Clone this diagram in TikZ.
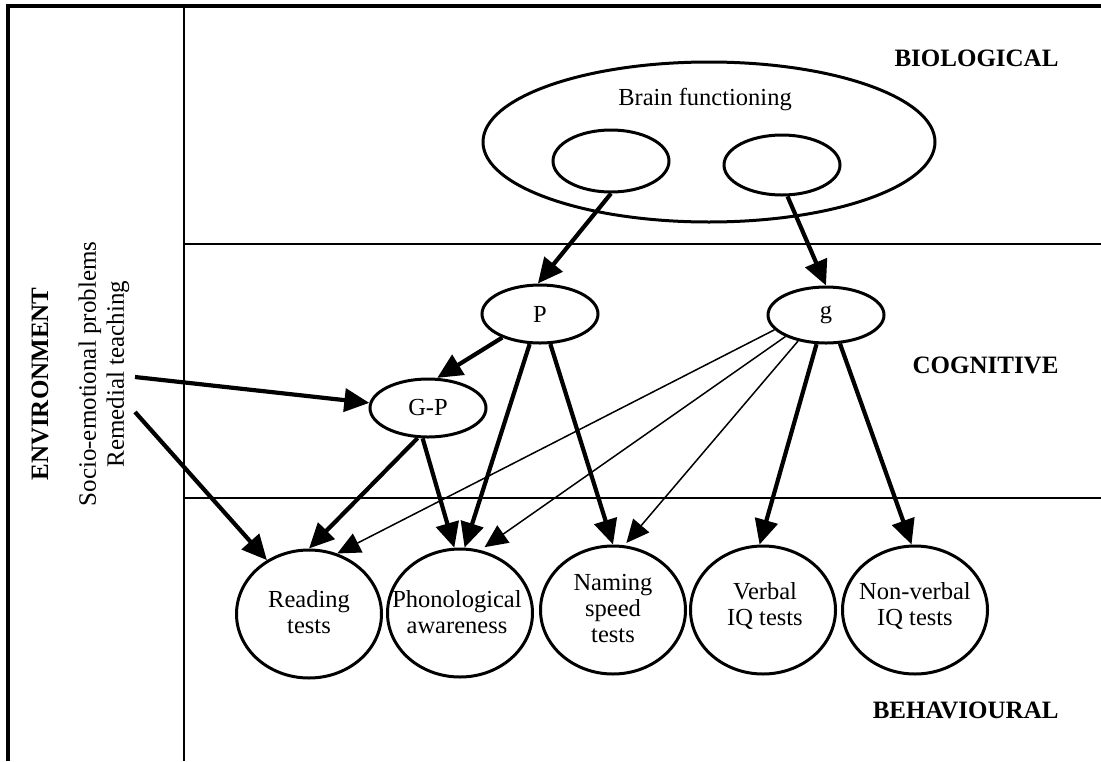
\documentclass[tikz,border=0pt]{standalone}
\usepackage{fontspec}
\setmainfont{Liberation Serif}
\usetikzlibrary{arrows.meta,shapes.geometric}
\begin{document}
\begin{tikzpicture}[x=1pt,y=-1pt,
  every node/.style={font=\fontsize{24.5}{26}\selectfont},
  oval/.style={draw, ellipse, line width=3pt, inner sep=0pt},
  testoval/.style={oval, minimum width=145pt, minimum height=128pt},
  factoroval/.style={oval, minimum width=116pt, minimum height=58pt},
  ovaltext/.style={align=center, inner sep=0pt},
  bigarrow/.style={line width=4.2pt, -{Triangle[length=25pt,width=23pt]}},
  thinarrow/.style={line width=1.5pt, -{Triangle[length=23pt,width=21pt]}},
  level/.style={font=\fontsize{25}{27}\selectfont\bfseries, anchor=east},
  frame/.style={line width=3.2pt},
  divider/.style={line width=1.6pt}]

\useasboundingbox (0,0) rectangle (1101,761);

% frame and level dividers
\draw[frame] (8,761) -- (8,6) -- (1101,6);
\draw[divider] (184,6) -- (184,761);
\draw[divider] (184,244) -- (1101,244);
\draw[divider] (184,498) -- (1101,498);

% level labels
\node[level] (bio) at (1062,58) {BIOLOGICAL};
\node[level] (cog) at (1062,365) {COGNITIVE};
\node[level] (beh) at (1062,710) {BEHAVIOURAL};

% environment column
\node[rotate=90, font=\fontsize{25}{27}\selectfont\bfseries] (env) at (40,384) {ENVIRONMENT};
\node[rotate=90, align=center, font=\fontsize{25}{28}\selectfont] (factors) at (104,374)
  {Socio-emotional problems\\Remedial teaching};
\coordinate (e1) at (135,377);
\coordinate (e2) at (135,412);

% biological level
\node[oval, minimum width=452pt, minimum height=160pt] (brain) at (709,142) {};
\node[anchor=base] (braintxt) at (705,105) {Brain functioning};
\node[oval, minimum width=116pt, minimum height=62pt] (bl) at (611,161) {};
\node[oval, minimum width=116pt, minimum height=60pt] (br) at (782,165) {};

% cognitive level
\node[factoroval] (p) at (540,314) {P};
\node[factoroval, minimum height=56pt] (g) at (826,315) {g};
\node[factoroval] (gp) at (428,408) {G-P};

% behavioural level
\node[testoval] (read) at (309,614) {};
\node[testoval] (phon) at (460,613) {};
\node[testoval] (name) at (613,610) {};
\node[testoval] (verb) at (763,610) {};
\node[testoval] (nonv) at (915,610) {};
\node[ovaltext] (readtxt) at (309,612) {Reading\\tests};
\node[ovaltext] (phontxt) at (457,612) {Phonological\\awareness};
\node[ovaltext] (nametxt) at (613,608) {Naming\\speed\\tests};
\node[ovaltext] (verbtxt) at (765,606) {Verbal\\IQ tests};
\node[ovaltext] (nonvtxt) at (915,606) {Non-verbal\\IQ tests};

% connectors
\draw[bigarrow] (bl.270) -- (p.94);
\draw[bigarrow] (br.280) -- (g.90);
\draw[bigarrow] (p.212) -- (gp.73);
\draw[bigarrow] (e1) -- (gp.175);
\draw[bigarrow] (e2) -- (read.128);
\draw[bigarrow] (gp.251) -- (read.90);
\draw[bigarrow] (gp.260) -- (phon.95);
\draw[bigarrow] (p.251) -- (phon.86);
\draw[bigarrow] (p.289) -- (name.90);
\draw[bigarrow] (g.252) -- (verb.93);
\draw[bigarrow] (g.296) -- (nonv.93);
\draw[thinarrow] (g.196) -- (read.65);
\draw[thinarrow, shorten >=5pt] (g.208) -- (phon.72);
\draw[thinarrow, shorten >=3pt] (g.223) -- (name.80);
\end{tikzpicture}
\end{document}
